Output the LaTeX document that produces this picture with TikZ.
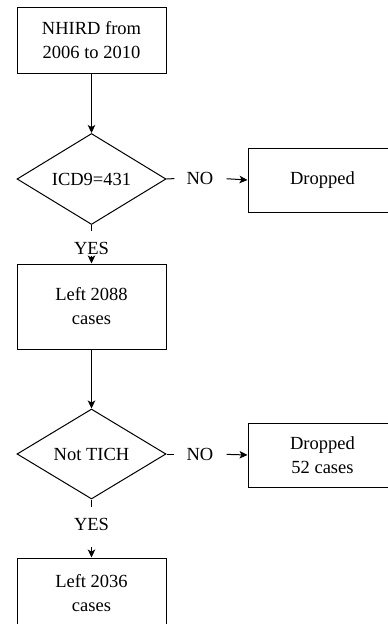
\documentclass[tikz,border=0pt]{standalone}
\usepackage{fontspec}
\setmainfont{Liberation Serif}
\usetikzlibrary{
    shapes.geometric,
    arrows.meta
}
\tikzset {
    txt/.style = {font = \fontsize{18.5}{24}\selectfont},
    box/.style = {draw, txt, line width = 1pt, minimum width = 149pt, align = center, inner sep = 0pt},
    decision/.style = {diamond, aspect = 1.6, draw, txt, line width = 1pt, minimum width = 149pt, minimum height = 91pt, inner sep = 0pt},
    answer/.style = {txt, inner sep = 1pt},
    link/.style = {line width = 1pt},
    arrowed/.style = {line width = 1pt, -{Stealth[length = 8pt, width = 7.5pt, inset = 2pt]}}
}
\begin{document}
\begin{tikzpicture}[x = 1pt, y = -1pt]
    \useasboundingbox (0, 0) rectangle (388, 624);
    \clip (0, 0) rectangle (388, 624);
    % main column
    \node (source) [box, minimum height = 66pt] at (91.5, 40) {NHIRD from\\2006 to 2010};
    \node (icd) [decision] at (91.5, 179) {ICD9=431};
    \node (yesa) [answer] at (91.5, 248.5) {YES};
    \node (lefta) [box, minimum height = 85pt] at (91.5, 306.5) {Left 2088\\cases};
    \node (tich) [decision, minimum height = 90pt] at (91.5, 454) {Not TICH};
    \node (yesb) [answer] at (91.5, 524.5) {YES};
    \node (leftb) [box, minimum height = 70pt] at (91.5, 593) {Left 2036\\cases};
    % dropped branch
    \node (noa) [answer] at (200, 178) {NO};
    \node (dropa) [box, minimum height = 64pt] at (322.5, 180) {Dropped};
    \node (nob) [answer] at (200, 454) {NO};
    \node (dropb) [box, minimum height = 64pt] at (322.5, 455) {Dropped\\52 cases};
    \draw [arrowed] (source) -- (icd);
    \draw [link, shorten >= 10pt] (icd.south) -- (yesa.north);
    \draw [arrowed] (yesa) -- (lefta);
    \draw [arrowed] (lefta) -- (tich);
    \draw [link, shorten >= 10pt] (tich.south) -- (yesb.north);
    \draw [arrowed, shorten <= 15pt] (yesb) -- (leftb);
    \draw [link, shorten >= 11pt] (icd.east) -- (noa.west);
    \draw [arrowed, shorten <= 12pt] (noa.east) -- (dropa.west);
    \draw [link, shorten >= 11pt] (tich.east) -- (nob.west);
    \draw [arrowed, shorten <= 12pt] (nob.east) -- (dropb.west);
\end{tikzpicture}
\end{document}
